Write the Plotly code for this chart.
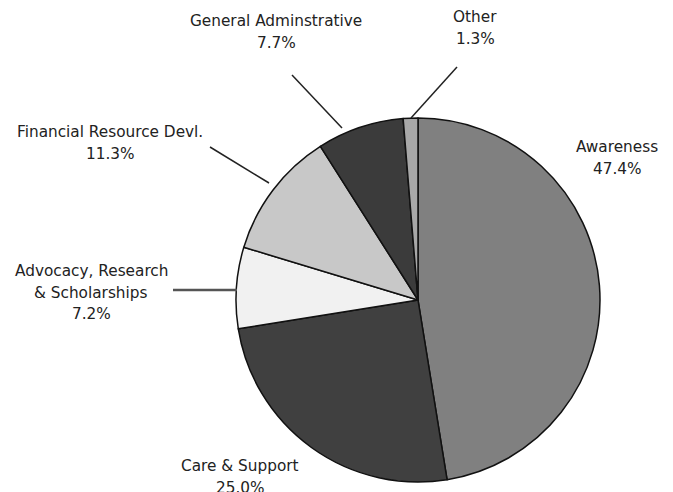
import plotly.graph_objects as go

# ---- data ----
categories = ["Awareness", "Care & Support", "Advocacy, Research<br>& Scholarships",
              "Financial Resource Devl.", "General Adminstrative", "Other"]
values = [47.4, 25.0, 7.2, 11.3, 7.7, 1.3]
colors = ["#808080", "#404040", "#f1f1f1", "#c8c8c8", "#3b3b3b", "#a8a8a8"]

# ---- layout (pixel space of 673x492 canvas) ----
W, H = 673, 492
cx, cy, r = 418, 300, 182

# label anchor: centre x, y of first text line (pixels from top)
label_pos = [(617, 147), (240, 466), (91, 271), (110, 132), (276, 21), (475, 17)]
line_gap = 21.5
# leader lines: (x0, y0, x1, y1) in pixels
leaders = [None, None, (173, 290, 237, 290), (210, 147, 269, 183),
           (292, 75, 342, 128), (457, 67, 411, 118)]
leader_w = [0, 0, 2.5, 1.5, 1.5, 1.5]
leader_c = ["#222", "#222", "#555", "#222", "#222", "#222"]

fig = go.Figure()
fig.add_trace(go.Pie(
    labels=categories, values=values, sort=False, direction="clockwise",
    rotation=0, textinfo="none", hoverinfo="label+percent",
    marker=dict(colors=colors, line=dict(color="#111", width=1.5)),
    domain=dict(x=[(cx - r) / W, (cx + r) / W],
                y=[(H - cy - r) / H, (H - cy + r) / H]),
    showlegend=False,
))

font = dict(family="DejaVu Sans", size=15.3, color="#222222")
for cat, v, (lx, ly), ld, lw, lc in zip(categories, values, label_pos, leaders, leader_w, leader_c):
    lines = cat.split("<br>") + [f"{v:.1f}%"]
    for i, t in enumerate(lines):
        fig.add_annotation(x=lx, y=ly + i * line_gap, xref="x", yref="y", text=t,
                           showarrow=False, font=font, xanchor="center", yanchor="middle")
    if ld:
        fig.add_shape(type="line", xref="x", yref="y", x0=ld[0], y0=ld[1], x1=ld[2], y1=ld[3],
                      line=dict(color=lc, width=lw))

fig.update_layout(
    width=W, height=H, margin=dict(l=0, r=0, t=0, b=0),
    paper_bgcolor="white", plot_bgcolor="rgba(0,0,0,0)",
    xaxis=dict(range=[0, W], visible=False, fixedrange=True),
    yaxis=dict(range=[H, 0], visible=False, fixedrange=True),
)
fig.write_html("out.html", config={"displayModeBar": False},
               post_script="document.body.style.margin='0';document.body.style.overflow='hidden';")
